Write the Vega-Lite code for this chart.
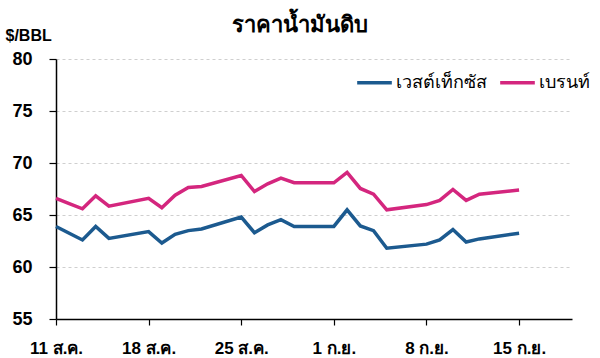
{
  "$schema": "https://vega.github.io/schema/vega-lite/v6.json",
  "width": 516,
  "height": 260,
  "autosize": "none",
  "padding": {"left": 56, "top": 59, "right": 28, "bottom": 39},
  "background": "white",
  "title": {
    "text": "ราคาน้ำมันดิบ",
    "anchor": "middle",
    "frame": "group",
    "dx": -14,
    "fontSize": 22,
    "fontWeight": "bold",
    "font": "Liberation Sans",
    "color": "#000000",
    "offset": -10
  },
  "config": {
    "view": {"stroke": null},
    "font": "Liberation Sans"
  },
  "data": {
    "values": [
      {"date": "2025-08-11", "series": "เวสต์เท็กซัส", "price": 63.9},
      {"date": "2025-08-12", "series": "เวสต์เท็กซัส", "price": 63.25},
      {"date": "2025-08-13", "series": "เวสต์เท็กซัส", "price": 62.6},
      {"date": "2025-08-14", "series": "เวสต์เท็กซัส", "price": 63.9},
      {"date": "2025-08-15", "series": "เวสต์เท็กซัส", "price": 62.75},
      {"date": "2025-08-18", "series": "เวสต์เท็กซัส", "price": 63.4},
      {"date": "2025-08-19", "series": "เวสต์เท็กซัส", "price": 62.3},
      {"date": "2025-08-20", "series": "เวสต์เท็กซัส", "price": 63.15},
      {"date": "2025-08-21", "series": "เวสต์เท็กซัส", "price": 63.5},
      {"date": "2025-08-22", "series": "เวสต์เท็กซัส", "price": 63.65},
      {"date": "2025-08-25", "series": "เวสต์เท็กซัส", "price": 64.8},
      {"date": "2025-08-26", "series": "เวสต์เท็กซัส", "price": 63.3},
      {"date": "2025-08-27", "series": "เวสต์เท็กซัส", "price": 64.05},
      {"date": "2025-08-28", "series": "เวสต์เท็กซัส", "price": 64.55},
      {"date": "2025-08-29", "series": "เวสต์เท็กซัส", "price": 63.9},
      {"date": "2025-09-01", "series": "เวสต์เท็กซัส", "price": 63.9},
      {"date": "2025-09-02", "series": "เวสต์เท็กซัส", "price": 65.5},
      {"date": "2025-09-03", "series": "เวสต์เท็กซัส", "price": 63.95},
      {"date": "2025-09-04", "series": "เวสต์เท็กซัส", "price": 63.5},
      {"date": "2025-09-05", "series": "เวสต์เท็กซัส", "price": 61.8},
      {"date": "2025-09-08", "series": "เวสต์เท็กซัส", "price": 62.2},
      {"date": "2025-09-09", "series": "เวสต์เท็กซัส", "price": 62.6},
      {"date": "2025-09-10", "series": "เวสต์เท็กซัส", "price": 63.6},
      {"date": "2025-09-11", "series": "เวสต์เท็กซัส", "price": 62.4},
      {"date": "2025-09-12", "series": "เวสต์เท็กซัส", "price": 62.7},
      {"date": "2025-09-15", "series": "เวสต์เท็กซัส", "price": 63.25},
      {"date": "2025-08-11", "series": "เบรนท์", "price": 66.6},
      {"date": "2025-08-12", "series": "เบรนท์", "price": 66.1},
      {"date": "2025-08-13", "series": "เบรนท์", "price": 65.6},
      {"date": "2025-08-14", "series": "เบรนท์", "price": 66.85},
      {"date": "2025-08-15", "series": "เบรนท์", "price": 65.85},
      {"date": "2025-08-18", "series": "เบรนท์", "price": 66.6},
      {"date": "2025-08-19", "series": "เบรนท์", "price": 65.7},
      {"date": "2025-08-20", "series": "เบรนท์", "price": 66.9},
      {"date": "2025-08-21", "series": "เบรนท์", "price": 67.65},
      {"date": "2025-08-22", "series": "เบรนท์", "price": 67.75},
      {"date": "2025-08-25", "series": "เบรนท์", "price": 68.8},
      {"date": "2025-08-26", "series": "เบรนท์", "price": 67.25},
      {"date": "2025-08-27", "series": "เบรนท์", "price": 68.0},
      {"date": "2025-08-28", "series": "เบรนท์", "price": 68.55},
      {"date": "2025-08-29", "series": "เบรนท์", "price": 68.1},
      {"date": "2025-09-01", "series": "เบรนท์", "price": 68.1},
      {"date": "2025-09-02", "series": "เบรนท์", "price": 69.1},
      {"date": "2025-09-03", "series": "เบรนท์", "price": 67.55},
      {"date": "2025-09-04", "series": "เบรนท์", "price": 67.0},
      {"date": "2025-09-05", "series": "เบรนท์", "price": 65.5},
      {"date": "2025-09-08", "series": "เบรนท์", "price": 66.0},
      {"date": "2025-09-09", "series": "เบรนท์", "price": 66.4},
      {"date": "2025-09-10", "series": "เบรนท์", "price": 67.45},
      {"date": "2025-09-11", "series": "เบรนท์", "price": 66.4},
      {"date": "2025-09-12", "series": "เบรนท์", "price": 67.0},
      {"date": "2025-09-15", "series": "เบรนท์", "price": 67.4}
    ]
  },
  "mark": {"type": "line", "strokeWidth": 3.5, "strokeJoin": "miter"},
  "encoding": {
    "x": {
      "field": "date",
      "type": "temporal",
      "scale": {
        "type": "utc",
        "domain": [
          {"year": 2025, "month": 8, "date": 11, "utc": true},
          {"year": 2025, "month": 9, "date": 19, "utc": true}
        ],
        "nice": false
      },
      "axis": {
        "title": null,
        "values": [
          {"year": 2025, "month": 8, "date": 11, "utc": true},
          {"year": 2025, "month": 8, "date": 18, "utc": true},
          {"year": 2025, "month": 8, "date": 25, "utc": true},
          {"year": 2025, "month": 9, "date": 1, "utc": true},
          {"year": 2025, "month": 9, "date": 8, "utc": true},
          {"year": 2025, "month": 9, "date": 15, "utc": true}
        ],
        "labelExpr": "utcdate(datum.value) + ' ' + (utcmonth(datum.value) == 7 ? 'ส.ค.' : 'ก.ย.')",
        "grid": false,
        "domainColor": "#000000",
        "domainWidth": 1.5,
        "tickColor": "#000000",
        "tickSize": 6,
        "tickWidth": 1.2,
        "labelFontSize": 17,
        "labelFontWeight": "bold",
        "labelColor": "#000000",
        "labelPadding": 15,
        "labelFlush": false
      }
    },
    "y": {
      "field": "price",
      "type": "quantitative",
      "scale": {"domain": [55, 80], "nice": false, "zero": false},
      "axis": {
        "values": [55, 60, 65, 70, 75, 80],
        "title": "$/BBL",
        "titleAngle": 0,
        "titleAlign": "left",
        "titleBaseline": "alphabetic",
        "titleX": -51,
        "titleY": -19,
        "titleFontSize": 16,
        "titleFontWeight": "bold",
        "titleColor": "#000000",
        "grid": true,
        "gridDash": [3, 3],
        "gridColor": "#cfcfcf",
        "gridWidth": 1,
        "domainColor": "#000000",
        "domainWidth": 1.5,
        "tickColor": "#000000",
        "tickSize": 7,
        "tickWidth": 1.2,
        "labelFontSize": 18,
        "labelFontWeight": "bold",
        "labelColor": "#000000",
        "labelPadding": 17
      }
    },
    "color": {
      "field": "series",
      "type": "nominal",
      "scale": {"domain": ["เวสต์เท็กซัส", "เบรนท์"], "range": ["#1c5a8f", "#d4267e"]},
      "sort": ["เวสต์เท็กซัส", "เบรนท์"],
      "legend": {
        "title": null,
        "orient": "none",
        "legendX": 299,
        "legendY": 4,
        "direction": "horizontal",
        "symbolType": "stroke",
        "symbolSize": 1200,
        "symbolStrokeWidth": 3.5,
        "labelFontSize": 18,
        "labelColor": "#000000",
        "labelOffset": 2,
        "columnPadding": 6
      }
    }
  }
}
